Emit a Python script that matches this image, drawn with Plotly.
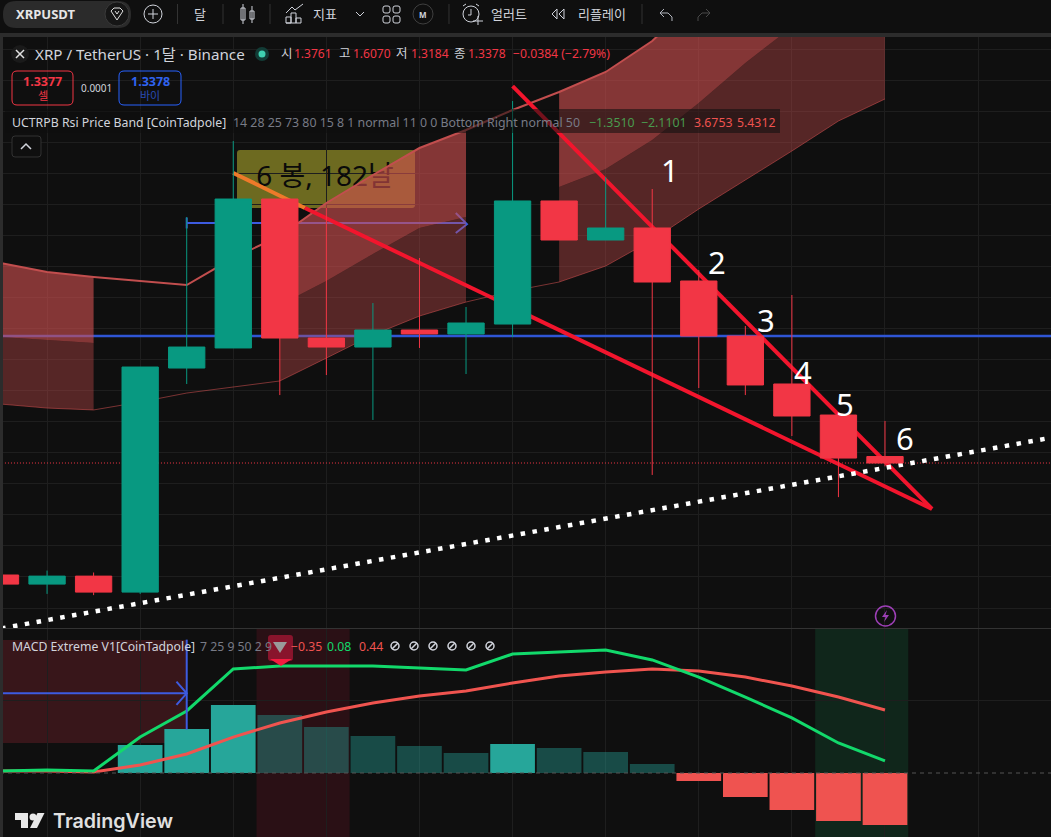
import plotly.graph_objects as go

W, H = 1051, 837
BG = "#0f0f0f"
GRID = "#1e1e1e"
UP = "#089981"
DOWN = "#f23645"
FONT = "Noto Sans, Noto Sans CJK KR"

# =====================================================================
# DATA (monthly XRP/USDT, log scale)
# =====================================================================
bars = list(range(20))
opens = [0.821, 0.789, 0.817, 0.762, 2.024, 2.209, 4.229, 2.307, 2.218, 2.389, 2.348, 2.452, 4.193, 3.537, 3.727, 2.958, 2.327, 1.888, 1.649, 1.3761]
highs = [0.821, 0.837, 0.830, 2.033, 3.910, 5.446, 4.229, 4.067, 2.687, 3.270, 2.641, 6.484, 4.193, 4.655, 4.418, 3.103, 2.431, 2.783, 1.649, 1.6070]
lows = [0.789, 0.756, 0.752, 0.756, 1.888, 2.209, 1.799, 1.963, 1.614, 2.209, 1.972, 2.317, 3.537, 3.537, 1.270, 1.855, 1.799, 1.505, 1.153, 1.3184]
closes = [0.789, 0.817, 0.762, 2.033, 2.218, 4.229, 2.307, 2.218, 2.389, 2.348, 2.463, 4.193, 3.537, 3.727, 2.945, 2.327, 1.880, 1.642, 1.367, 1.3378]

band_upper = [3.200, 3.076, 3.010, 2.958, 2.907, 3.270, 3.599, 4.156, 4.696, 5.282, 5.714, 6.235, 6.744, 7.358, 8.423, 10.20, 11.99, 13.67, 15.24, 16.63]
band_mid = [2.317, 2.287, 2.257, None, None, None, 2.664, 2.958, 3.327, 3.727, 3.910, None, 4.456, 4.820, 5.470, 6.428, 7.652, 8.953, 9.94, 10.75]
band_lower = [1.730, 1.700, 1.686, 1.745, 1.815, 1.863, 1.913, 2.114, 2.338, 2.539, 2.699, 2.832, 2.945, 3.158, 3.537, 4.049, 4.595, 5.214, 5.942, 6.541]
band_segments = [(0, 2), (6, 10), (12, 19)]

price_grid = [0.711, 0.814, 0.932, 1.067, 1.221, 1.398, 1.600, 1.832, 2.097, 2.400, 2.747, 3.145, 3.600, 4.121, 4.717, 5.400, 6.181, 7.076, 8.100]

macd = [0.014, 0.021, 0.014, 0.248, 0.428, 0.718, 0.738, 0.738, 0.738, 0.725, 0.711, 0.821, 0.835, 0.849, 0.780, 0.662, 0.524, 0.380, 0.207, 0.083]
signal = [0.014, 0.014, 0.007, 0.055, 0.131, 0.248, 0.345, 0.421, 0.483, 0.531, 0.566, 0.621, 0.669, 0.697, 0.718, 0.704, 0.662, 0.600, 0.524, 0.435]
hist = [0, 0, 0, 0.193, 0.304, 0.469, 0.400, 0.317, 0.255, 0.186, 0.138, 0.200, 0.173, 0.145, 0.062, -0.055, -0.166, -0.255, -0.331, -0.359]
hist_colors = ["#26a69a"] * 6 + ["rgba(38,166,154,0.4)"] * 5 + ["#26a69a"] + ["rgba(38,166,154,0.4)"] * 3 + ["#ef5350"] * 5

# drawings, as (bar, price)
level_price = 2.327
last_price = 1.3378
wedge_top_x, wedge_top_y = [11, 20.01], [6.92, 1.095]
wedge_low_a_x, wedge_low_a_y = [5, 6.54], [4.737, 4.067]
wedge_low_b_x, wedge_low_b_y = [6.54, 20.01], [4.067, 1.095]
trend_x, trend_y = [-1, 23], [0.6265, 1.518]
measure_x, measure_y = [4, 10], [3.809, 3.809]
measure_tick_x, measure_tick_y = [4, 4], [3.72, 3.90]
measure_head_x, measure_head_y = [9.78, 10.02, 9.78], [3.979, 3.79, 3.647]
count_labels = ["1", "2", "3", "4", "5", "6"]
count_x = [670, 717, 766, 803, 845, 905]
count_y = [170, 262, 320, 372, 404, 438]

fig = go.Figure()

# =====================================================================
# MAIN PANE
# =====================================================================
def main_line(x, y, color, width, dash=None):
    fig.add_trace(go.Scatter(x=x, y=y, mode="lines", line=dict(color=color, width=width, dash=dash), hoverinfo="skip"))

# label of the measure box sits under the band, like on the chart
fig.add_trace(go.Scatter(x=[6.97], y=[4.62], mode="text", text=["6 봉, 182날"], textposition="middle center",
                         textfont=dict(family=FONT, size=28, color="#0a0a0a"), hoverinfo="skip"))
main_line(measure_x, measure_y, "#3d5be0", 2)
main_line(measure_tick_x, measure_tick_y, "#3d5be0", 2)
main_line(measure_head_x, measure_head_y, "#3d5be0", 2)
main_line([-1, 23], [level_price, level_price], "#2f55d4", 2.5)

for start, end in band_segments:
    xs = bars[start:end + 1]
    fig.add_trace(go.Scatter(x=xs, y=band_lower[start:end + 1], mode="lines", line=dict(width=0), hoverinfo="skip"))
    fig.add_trace(go.Scatter(x=xs, y=band_mid[start:end + 1], mode="lines", line=dict(width=0), fill="tonexty",
                             fillcolor="rgba(210,80,80,0.37)", hoverinfo="skip"))
    fig.add_trace(go.Scatter(x=xs, y=band_upper[start:end + 1], mode="lines", line=dict(width=0), fill="tonexty",
                             fillcolor="rgba(210,80,80,0.6)", hoverinfo="skip"))
main_line(bars, band_upper, "#c24e4e", 2)
main_line(bars, band_lower, "rgba(210,80,80,0.55)", 1)

main_line([-1, 23], [last_price, last_price], DOWN, 1, "1px,2px")
main_line(wedge_top_x, wedge_top_y, "#f2152d", 4)
main_line(wedge_low_a_x, wedge_low_a_y, "#ee7a2a", 4)
main_line(wedge_low_b_x, wedge_low_b_y, "#f2152d", 4)
main_line(trend_x, trend_y, "#ffffff", 4.5, "4.5px,7.5px")

fig.add_trace(go.Candlestick(
    x=bars, open=opens, high=highs, low=lows, close=closes, yaxis="y3", whiskerwidth=0,
    increasing=dict(line=dict(color=UP, width=1), fillcolor=UP),
    decreasing=dict(line=dict(color=DOWN, width=1), fillcolor=DOWN),
    hoverinfo="skip",
))

# =====================================================================
# MACD PANE
# =====================================================================
fig.add_trace(go.Bar(x=bars, y=hist, marker=dict(color=hist_colors, line=dict(width=0)), xaxis="x2", yaxis="y2", hoverinfo="skip"))
fig.add_trace(go.Scatter(x=bars, y=signal, mode="lines", line=dict(color="#f0544f", width=3), xaxis="x2", yaxis="y2", hoverinfo="skip"))
fig.add_trace(go.Scatter(x=bars, y=macd, mode="lines", line=dict(color="#12d96b", width=3), xaxis="x2", yaxis="y2", hoverinfo="skip"))
fig.add_trace(go.Scatter(x=[-1, 4], y=[0.55, 0.55], mode="lines", line=dict(color="#3d5be0", width=2), xaxis="x2", yaxis="y2", hoverinfo="skip"))
fig.add_trace(go.Scatter(x=[4, 4], y=[0.92, 0.30], mode="lines", line=dict(color="#3d5be0", width=2), xaxis="x2", yaxis="y2", hoverinfo="skip"))
fig.add_trace(go.Scatter(x=[3.78, 4, 3.78], y=[0.63, 0.55, 0.47], mode="lines", line=dict(color="#3d5be0", width=2), xaxis="x2", yaxis="y2", hoverinfo="skip"))

# =====================================================================
# PIXEL HELPERS FOR THE CHROME (toolbar, legends, icons)
# =====================================================================
shapes = []
notes = []

def X(px):
    return px / W

def Y(py):
    return 1 - py / H

def rect(x0, y0, x1, y1, fill=None, line=None, width=1, layer="above"):
    shapes.append(dict(type="rect", xref="paper", yref="paper", x0=X(x0), x1=X(x1), y0=Y(y0), y1=Y(y1),
                       fillcolor=fill or "rgba(0,0,0,0)", line=dict(color=line or "rgba(0,0,0,0)", width=width if line else 0), layer=layer))

def circle(cx, cy, r, fill=None, line=None, width=1):
    shapes.append(dict(type="circle", xref="paper", yref="paper", x0=X(cx - r), x1=X(cx + r), y0=Y(cy - r), y1=Y(cy + r),
                       fillcolor=fill or "rgba(0,0,0,0)", line=dict(color=line or "rgba(0,0,0,0)", width=width if line else 0), layer="above"))

def poly(points, fill=None, line=None, width=1, closed=False, layer="above"):
    d = "M " + " L ".join(f"{X(a):.5f} {Y(b):.5f}" for a, b in points) + (" Z" if closed else "")
    shapes.append(dict(type="path", xref="paper", yref="paper", path=d, fillcolor=fill or "rgba(0,0,0,0)",
                       line=dict(color=line or "rgba(0,0,0,0)", width=width if line else 0), layer=layer))

def round_rect(x0, y0, x1, y1, r, fill=None, line=None, width=1, layer="above"):
    d = (f"M {X(x0 + r):.5f} {Y(y0):.5f} L {X(x1 - r):.5f} {Y(y0):.5f} Q {X(x1):.5f} {Y(y0):.5f} {X(x1):.5f} {Y(y0 + r):.5f} "
         f"L {X(x1):.5f} {Y(y1 - r):.5f} Q {X(x1):.5f} {Y(y1):.5f} {X(x1 - r):.5f} {Y(y1):.5f} "
         f"L {X(x0 + r):.5f} {Y(y1):.5f} Q {X(x0):.5f} {Y(y1):.5f} {X(x0):.5f} {Y(y1 - r):.5f} "
         f"L {X(x0):.5f} {Y(y0 + r):.5f} Q {X(x0):.5f} {Y(y0):.5f} {X(x0 + r):.5f} {Y(y0):.5f} Z")
    shapes.append(dict(type="path", xref="paper", yref="paper", path=d, fillcolor=fill or "rgba(0,0,0,0)",
                       line=dict(color=line or "rgba(0,0,0,0)", width=width if line else 0), layer=layer))

def txt(x, y, s, size=13, color="#d1d4dc", anchor="left", family=FONT, weight=None):
    font = dict(family=family, size=size, color=color)
    if weight:
        font["weight"] = weight
    notes.append(dict(xref="paper", yref="paper", x=X(x), y=Y(y), text=s, showarrow=False, xanchor=anchor, yanchor="middle",
                      borderpad=0, font=font))

# measure box, below the traces
round_rect(237, 150, 415, 208, 3, fill="#6d6a20", layer="below")

# pane shades in the MACD pane
shapes.append(dict(type="rect", xref="x2", yref="paper", x0=-1, x1=4, y0=Y(743), y1=Y(640), fillcolor="#38161a", line=dict(width=0), layer="below"))
shapes.append(dict(type="rect", xref="x2", yref="paper", x0=5.5, x1=7.5, y0=Y(837), y1=Y(629), fillcolor="#2a1015", line=dict(width=0), layer="below"))
shapes.append(dict(type="rect", xref="x2", yref="paper", x0=17.5, x1=19.5, y0=Y(837), y1=Y(629), fillcolor="#10261b", line=dict(width=0), layer="below"))
shapes.append(dict(type="line", xref="paper", yref="y2", x0=0, x1=1, y0=0, y1=0, line=dict(color="#555555", width=1, dash="4px,4px"), layer="above"))
poly([(3, 628.5), (1051, 628.5)], line="#333333")

# frame
rect(0, 0, 1051, 33, fill=BG)
rect(0, 33, 1051, 37, fill="#2c2c2c")
rect(0, 33, 3, 837, fill="#2c2c2c")

# =====================================================================
# TOOLBAR
# =====================================================================
round_rect(3, 1, 131, 28, 13, fill="#2b2b2b")
txt(15, 14, "XRPUSDT", 13, "#e6e6e6", weight=700)
circle(117, 14, 12, fill="#161616", line="#3a3a3a")
poly([(111, 11), (114, 8), (120, 8), (123, 11), (117, 20)], line="#e0e0e0", closed=True)
poly([(115, 11), (117, 14), (119, 11)], line="#e0e0e0")
circle(153, 14, 9, line="#d1d4dc")
poly([(148, 14), (158, 14)], line="#d1d4dc")
poly([(153, 9), (153, 19)], line="#d1d4dc")
for sep in [177.5, 223, 270, 449, 642]:
    poly([(sep, 4), (sep, 24)], line="#333333")
txt(200, 14, "달", 13, anchor="center")
rect(241, 8, 245, 20, line="#d1d4dc")
poly([(243, 4), (243, 24)], line="#d1d4dc")
rect(250, 11, 254, 19, line="#d1d4dc")
poly([(252, 6), (252, 23)], line="#d1d4dc")
poly([(286, 23), (286, 17), (291, 17), (291, 23), (286, 23)], line="#d1d4dc")
poly([(291, 23), (291, 13), (296, 13), (296, 23)], line="#d1d4dc")
poly([(296, 23), (296, 18), (301, 18), (301, 23), (286, 23)], line="#d1d4dc")
poly([(286, 13), (292, 7), (295, 10), (303, 4)], line="#d1d4dc")
txt(324.5, 14, "지표", 13, anchor="center")
poly([(356, 12), (360, 16), (364, 12)], line="#d1d4dc")
for gx, gy in [(383, 6), (393, 6), (383, 16), (393, 16)]:
    round_rect(gx, gy, gx + 7, gy + 7, 2, line="#d1d4dc")
circle(423, 14, 10, line="#3f3f3f")
txt(423, 14, "M", 8, anchor="center", weight=700)
circle(471, 14, 8, line="#d1d4dc")
poly([(471, 9), (471, 15), (468, 15)], line="#d1d4dc")
poly([(463, 6), (466, 4)], line="#d1d4dc")
poly([(476, 4), (479, 6)], line="#d1d4dc")
poly([(473, 21), (483, 21)], fill=None, line="#d1d4dc")
poly([(478, 16), (478, 25)], line="#d1d4dc")
txt(509, 14, "얼러트", 13, anchor="center")
poly([(557, 9), (552, 14), (557, 19), (557, 9)], line="#d1d4dc")
poly([(564, 9), (559, 14), (564, 19), (564, 9)], line="#d1d4dc")
txt(602, 14, "리플레이", 13, anchor="center")
poly([(664, 9), (660, 13), (664, 17)], line="#b2b5be")
poly([(660, 13), (668, 13), (672, 17), (672, 21)], line="#b2b5be")
poly([(706, 9), (710, 13), (706, 17)], line="#4a4a4a")
poly([(710, 13), (702, 13), (698, 17), (698, 21)], line="#4a4a4a")

# =====================================================================
# LEGENDS
# =====================================================================
circle(20, 54, 9, fill="#1a1a1a")
poly([(16, 50), (24, 58)], line="#e0e0e0", width=1.5)
poly([(24, 50), (16, 58)], line="#e0e0e0", width=1.5)
txt(34, 54, "XRP / TetherUS · 1달 · Binance", 15.2)
circle(262, 54, 7, fill="#123c36")
circle(262, 54, 3.5, fill="#3fd0b0")
RED = "#f23645"
txt(280, 54, "시", 12.5)
txt(293, 54, "1.3761", 12, RED)
txt(338, 54, "고", 12.5)
txt(352, 54, "1.6070", 12, RED)
txt(395, 54, "저", 12.5)
txt(410, 54, "1.3184", 12, RED)
txt(453, 54, "종", 12.5)
txt(467, 54, "1.3378", 12, RED)
txt(512, 54, "−0.0384 (−2.79%)", 12.2, RED)

round_rect(12, 71, 73, 105, 5, line="#f23645")
txt(42.5, 81, "1.3377", 12.5, RED, "center", weight=700)
txt(42.5, 95, "셀", 11, RED, "center")
txt(96, 88, "0.0001", 10, "#d1d4dc", "center")
round_rect(119, 71, 181, 105, 5, line="#2962ff")
txt(150, 81, "1.3378", 12.5, "#2f63f0", "center", weight=700)
txt(150, 95, "바이", 11, "#2a4bb5", "center")

rect(5, 109, 780, 133, fill="rgba(15,15,15,0.55)")
txt(11, 122, "UCTRPB Rsi Price Band [CoinTadpole]", 12.3, "#d1d4dc")
txt(232, 122, "14 28 25 73 80 15 8 1 normal 11 0 0 Bottom Right normal 50", 12.35, "#787b86")
txt(588, 122, "−1.3510", 12.3, "#4a9a4e")
txt(640, 122, "−2.1101", 12.3, "#4a9a4e")
txt(693, 122, "3.6753", 12.3, "#ef5350")
txt(736, 122, "5.4312", 12.3, "#ef5350")
round_rect(12, 136, 41, 157, 3, fill=BG, line="#333333")
poly([(21, 149), (26, 144), (31, 149)], line="#d1d4dc", width=1.5)

for label, lx, ly in zip(count_labels, count_x, count_y):
    txt(lx, ly, label, 31, "#ffffff", "center")

# MACD legend
txt(11, 646, "MACD Extreme V1[CoinTadpole]", 12.25, "#d1d4dc")
txt(199, 646, "7 25 9 50 2 9", 12.25, "#787b86")
round_rect(268, 635, 293, 661, 3, fill="rgba(170,22,52,0.75)")
poly([(273, 642), (287, 642), (280, 653)], fill="#9a9a9a", closed=True)
poly([(270, 659), (292, 659), (281, 666)], fill="#f5193f", closed=True)
txt(290, 646, "−0.35", 12.25, "#ef5350")
txt(326, 646, "0.08", 12.25, "#12d96b")
txt(358, 646, "0.44", 12.25, "#ef5350")
for ox in [395, 414, 433, 452, 471, 490]:
    circle(ox, 646, 4, line="#d1d4dc", width=1.5)
    poly([(ox - 3, 649), (ox + 3, 643)], line="#d1d4dc", width=1.5)

# lightning mark
circle(885.5, 616, 10, line="#9c3fb5", width=1.5)
poly([(887, 610), (882, 617), (885.5, 617), (884, 622), (889, 615), (885.5, 615)], fill="#9c3fb5", closed=True)

# TradingView logo
poly([(15, 813), (28, 813), (28, 828), (21, 828), (21, 820), (15, 820)], fill="#e8e8e8", closed=True)
circle(33, 817, 3.5, fill="#e8e8e8")
poly([(37.5, 813), (44.5, 813), (37, 828), (30, 828)], fill="#e8e8e8", closed=True)
txt(52, 821, "TradingView", 19.7, "#e0e0e0", family="Inter", weight=600)

# =====================================================================
# LAYOUT
# =====================================================================
x_common = dict(range=[-0.0107, 22.566], tick0=1, dtick=2, showgrid=True, gridcolor=GRID, gridwidth=1,
                showticklabels=False, zeroline=False, ticks="", showline=False, rangeslider=dict(visible=False))
fig.update_layout(
    width=W, height=H, margin=dict(l=0, r=0, t=0, b=0),
    paper_bgcolor=BG, plot_bgcolor=BG, showlegend=False, hovermode=False,
    boxgap=0.22, boxgroupgap=0, bargap=0.04,
    xaxis=dict(domain=[0, 1], anchor="y", **x_common),
    xaxis2=dict(domain=[0, 1], anchor="y2", matches="x", **x_common),
    yaxis=dict(domain=[(H - 628) / H, (H - 37) / H], type="log", range=[-0.186, 0.933], tickmode="array", tickvals=price_grid,
               showgrid=True, gridcolor=GRID, showticklabels=False, zeroline=False, ticks=""),
    yaxis2=dict(domain=[0, (H - 629) / H], range=[-0.4416, 0.9936], tickmode="array", tickvals=[0.5],
                showgrid=True, gridcolor=GRID, showticklabels=False, zeroline=False, ticks=""),
    yaxis3=dict(overlaying="y", type="log", range=[-0.186, 0.933], visible=False),
    shapes=shapes, annotations=notes,
)

fig.write_html("out.html", config=dict(displayModeBar=False),
               post_script="document.body.style.margin='0';document.body.style.overflow='hidden';")
